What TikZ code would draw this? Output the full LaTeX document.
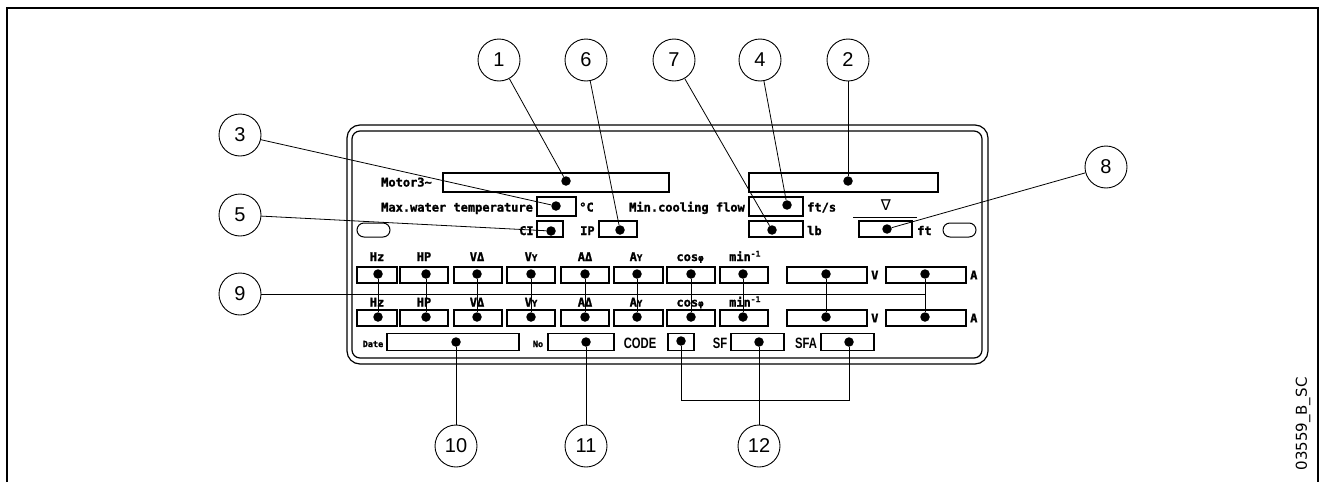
\documentclass[tikz,border=0pt]{standalone}
\usepackage{fontspec}
\setmainfont{Liberation Sans}
\newfontfamily\cadfont{DejaVu Sans Mono}[FakeBold=1.5]
\newfontfamily\narrowfont{Liberation Sans}[FakeStretch=0.75]
\newfontfamily\symfont{DejaVu Sans}
\newcommand{\smY}{{\fontsize{9}{9}\selectfont Y}}
\newcommand{\smphi}{{\fontsize{9}{9}\selectfont φ}}
\begin{document}
\begin{tikzpicture}[x=1pt,y=-1pt,
  fld/.style={draw, line width=1.2pt, inner sep=0pt, minimum height=16pt},
  pin/.style={circle, fill, inner sep=0pt, minimum size=9.5pt},
  callout/.style={circle, draw, line width=0.9pt, minimum size=42pt, inner sep=0pt, font=\fontsize{20}{20}\selectfont},
  lead/.style={line width=0.8pt},
  lbl/.style={inner sep=0pt, font=\cadfont\bfseries\fontsize{12}{12}\selectfont},
  tiny/.style={inner sep=0pt, font=\cadfont\bfseries\fontsize{8.5}{8.5}\selectfont},
  narrow/.style={inner sep=0pt, font=\narrowfont\bfseries\fontsize{15}{15}\selectfont},
  hole/.style={draw, line width=1pt, rounded corners=7pt, minimum width=33pt, minimum height=14pt, inner sep=0pt}
]
\useasboundingbox (0,0) rectangle (1324,482);
% outer frame
\draw[line width=2.5pt] (7,482) -- (7,8) -- (1318,8) -- (1318,482);
% plate
\draw[line width=1.2pt, rounded corners=13pt] (347,125) rectangle (988,364);
\draw[line width=1.2pt, rounded corners=8pt] (352,131) rectangle (982,358);
\node[hole] (holeL) at (373.5,230) {};
\node[hole] (holeR) at (959.5,230) {};

% row 1
\node[lbl, anchor=base west] (tMotor) at (381,186.5) {Motor3\textasciitilde};
\node[fld, minimum width=226pt, minimum height=19pt] (b1) at (556,182.5) {};
\node[pin] (d1) at (566,181) {};
\node[fld, minimum width=189pt, minimum height=19pt] (b2) at (843.5,182.5) {};
\node[pin] (d2) at (848,181) {};

% row 2
\node[lbl, anchor=base west] (tMax) at (381,211.5) {Max.water temperature};
\node[fld, minimum width=39pt, minimum height=19pt] (bT) at (556.5,206.5) {};
\node[pin] (dT) at (556,206) {};
\node[lbl, anchor=base west] (tC) at (579,211.5) {°C};
\node[lbl, anchor=base west] (tMin) at (629,211.5) {Min.cooling flow};
\node[fld, minimum width=54pt, minimum height=19pt] (bF) at (776,206.5) {};
\node[pin] (dF) at (787,205) {};
\node[lbl, anchor=base west] (tFts) at (807,211.5) {ft/s};
\node[inner sep=0pt, font=\symfont\fontsize{15}{15}\selectfont] (tNabla) at (886,205) {∇};
\draw[line width=1pt] (853,217) -- (917,217);

% row 3
\node[lbl, anchor=base west] (tCI) at (519,235) {CI};
\node[fld, minimum width=26pt] (bCI) at (550,229) {};
\node[pin] (dCI) at (551,231) {};
\node[lbl, anchor=base west] (tIP) at (580,235) {IP};
\node[fld, minimum width=38pt] (bIP) at (618,229) {};
\node[pin] (dIP) at (620,230) {};
\node[fld, minimum width=54pt] (bLb) at (776,229) {};
\node[pin] (dLb) at (772,230) {};
\node[lbl, anchor=base west] (tLb) at (807,235) {lb};
\node[fld, minimum width=53pt] (bFt) at (885.5,229) {};
\node[pin] (dFt) at (887,229) {};
\node[lbl, anchor=base west] (tFt) at (917,235) {ft};

% rows 4 and 5
\foreach \i/\cx/\w in {1/377/40, 2/424/48, 3/478/48, 4/531/48, 5/585/48, 6/638.5/49, 7/691/48, 8/744/48, 9/827/80, 10/926/80} {
  \node[fld, minimum width=\w pt] (r4b\i) at (\cx,275) {};
  \node[fld, minimum width=\w pt] (r5b\i) at (\cx,318) {};
}
\foreach \ry/\rn in {261/a, 306.5/b} {
  \node[lbl, anchor=base] (l\rn1) at (377,\ry) {Hz};
  \node[lbl, anchor=base] (l\rn2) at (424,\ry) {HP};
  \node[lbl, anchor=base] (l\rn3) at (477,\ry) {VΔ};
  \node[lbl, anchor=base] (l\rn4) at (531,\ry) {V\smY};
  \node[lbl, anchor=base] (l\rn5) at (585,\ry) {AΔ};
  \node[lbl, anchor=base] (l\rn6) at (636,\ry) {A\smY};
  \node[lbl, anchor=base] (l\rn7) at (690,\ry) {cos\smphi};
  \node[lbl, anchor=base] (l\rn8) at (745,\ry) {min\textsuperscript{-1}};
}
\foreach \i/\dx in {1/378, 2/426, 3/477, 4/531, 5/585, 6/637, 7/691, 8/743, 9/826, 10/925} {
  \node[pin] (r4d\i) at (\dx,274) {};
  \node[pin] (r5d\i) at (\dx,317) {};
  \draw[lead] (r4d\i) -- (r5d\i);
}
\node[lbl, anchor=west] (tV4) at (871,275) {V};
\node[lbl, anchor=west] (tA4) at (970,275) {A};
\node[lbl, anchor=west] (tV5) at (871,318) {V};
\node[lbl, anchor=west] (tA5) at (970,318) {A};

% row 6
\node[tiny, anchor=base] (tDate) at (373,347) {Date};
\node[fld, minimum width=132pt, minimum height=17pt] (bDate) at (453,342) {};
\node[pin] (dDate) at (456,342) {};
\node[tiny, anchor=base] (tNo) at (538,347) {No};
\node[fld, minimum width=66pt, minimum height=17pt] (bNo) at (581,342) {};
\node[pin] (dNo) at (586,342) {};
\node[narrow, anchor=base] (tCode) at (640,348) {CODE};
\node[fld, minimum width=26pt, minimum height=17pt] (bCode) at (681,342) {};
\node[pin] (dCode) at (681,341) {};
\node[narrow, anchor=base] (tSF) at (720,348) {SF};
\node[fld, minimum width=53pt, minimum height=17pt] (bSF) at (757.5,342) {};
\node[pin] (dSF) at (759,342) {};
\node[narrow, anchor=base] (tSFA) at (806,348) {SFA};
\node[fld, minimum width=53pt, minimum height=17pt] (bSFA) at (847.5,342) {};
\node[pin] (dSFA) at (849,342) {};

% callouts
\node[callout] (c1) at (499,60) {1};
\node[callout] (c6) at (586,60) {6};
\node[callout] (c7) at (674,60) {7};
\node[callout] (c4) at (760,60) {4};
\node[callout] (c2) at (848,60) {2};
\node[callout] (c3) at (240,135) {3};
\node[callout] (c5) at (240,215) {5};
\node[callout] (c9) at (240,294) {9};
\node[callout] (c8) at (1106,167) {8};
\node[callout] (c10) at (456,446) {10};
\node[callout] (c11) at (586,446) {11};
\node[callout] (c12) at (759,446) {12};

% leaders
\draw[lead] (c1) -- (d1);
\draw[lead] (c6) -- (dIP);
\draw[lead] (c7) -- (dLb);
\draw[lead] (c4) -- (dF);
\draw[lead] (c2) -- (d2);
\draw[lead] (c3) -- (dT);
\draw[lead] (c5) -- (dCI);
\draw[lead] (c8) -- (dFt);
\draw[lead] (c9) -- (c9 -| r4d10);
\draw[lead] (c10) -- (dDate);
\draw[lead] (c11) -- (dNo);
\coordinate (brk) at (0,400);
\draw[lead] (dCode) -- (dCode |- brk) -- (dSFA |- brk) -- (dSFA);
\draw[lead] (dSF) -- (c12);

% drawing code
\node[rotate=90, inner sep=0pt, font=\symfont\fontsize{15}{15}\selectfont] (dwg) at (1303,424) {03559\_B\_SC};
\end{tikzpicture}
\end{document}
